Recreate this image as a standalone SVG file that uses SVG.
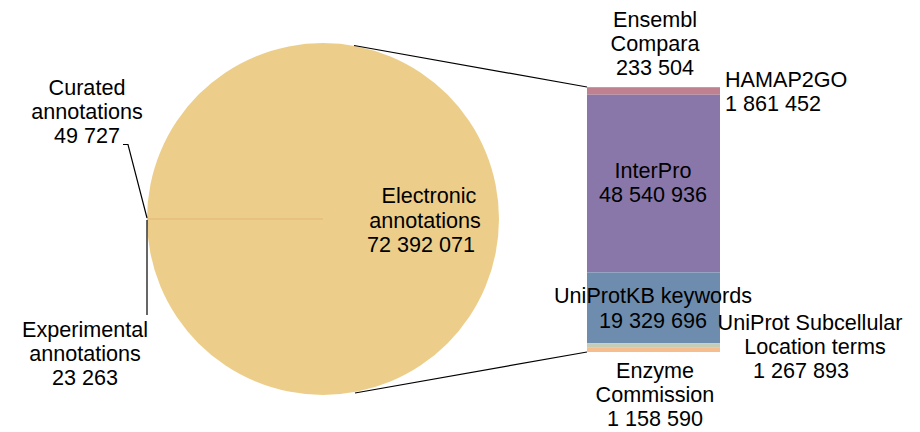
<svg xmlns="http://www.w3.org/2000/svg" width="920" height="432" viewBox="0 0 920 432">
<style>
text{font-family:"Liberation Sans",Arial,sans-serif;font-size:21.6px;fill:#000}
.c{text-anchor:middle}
.ld{fill:none;stroke:#000;stroke-width:1.2}
</style>
<rect width="920" height="432" fill="#fff"/>
<g id="pie">
<circle cx="323" cy="219" r="176" fill="#ECCE8A"/>
<line x1="147" y1="219" x2="323" y2="219" stroke="#E4B478" stroke-width="1"/>
</g>
<g id="bar">
<rect x="587" y="87" width="133" height="0.9" fill="#D0A040"/>
<rect x="587" y="87.9" width="133" height="6.8" fill="#BF808F"/>
<rect x="587" y="94.7" width="133" height="177.7" fill="#8A77AA"/>
<rect x="587" y="272.4" width="133" height="70.8" fill="#6E8DAE"/>
<rect x="587" y="343.2" width="133" height="4.6" fill="#C5CDB8"/>
<rect x="587" y="347.8" width="133" height="4.2" fill="#F6BE8F"/>
</g>
<g id="connectors">
<line class="ld" x1="354" y1="45.5" x2="587" y2="87"/>
<line class="ld" x1="355" y1="393" x2="587" y2="352"/>
<polyline class="ld" points="123,144.5 128,144.5 147,218"/>
<polyline class="ld" points="147,220 147,315"/>
</g>
<g id="curated"><text class="c" x="87" y="95">Curated</text><text class="c" x="87" y="119">annotations</text><text class="c" x="87" y="143">49 727</text></g>
<g id="experimental"><text class="c" x="85" y="337">Experimental</text><text class="c" x="85" y="361">annotations</text><text class="c" x="85" y="385">23 263</text></g>
<g id="electronic"><text class="c" x="429" y="203">Electronic</text><text class="c" x="425" y="228">annotations</text><text class="c" x="421" y="252">72 392 071</text></g>
<g id="ensembl"><text class="c" x="655" y="27">Ensembl</text><text class="c" x="655" y="51">Compara</text><text class="c" x="655" y="75">233 504</text></g>
<g id="hamap"><text x="725" y="87">HAMAP2GO</text><text x="725" y="111">1 861 452</text></g>
<g id="interpro"><text class="c" x="653" y="178">InterPro</text><text class="c" x="653" y="202">48 540 936</text></g>
<g id="keywords"><text class="c" x="653" y="303">UniProtKB keywords</text><text class="c" x="653" y="328">19 329 696</text></g>
<g id="subcellular"><text class="c" x="810" y="330">UniProt Subcellular</text><text class="c" x="815" y="354">Location terms</text><text class="c" x="801" y="378">1 267 893</text></g>
<g id="enzyme"><text class="c" x="655" y="378">Enzyme</text><text class="c" x="655" y="402">Commission</text><text class="c" x="655" y="426">1 158 590</text></g>
</svg>
